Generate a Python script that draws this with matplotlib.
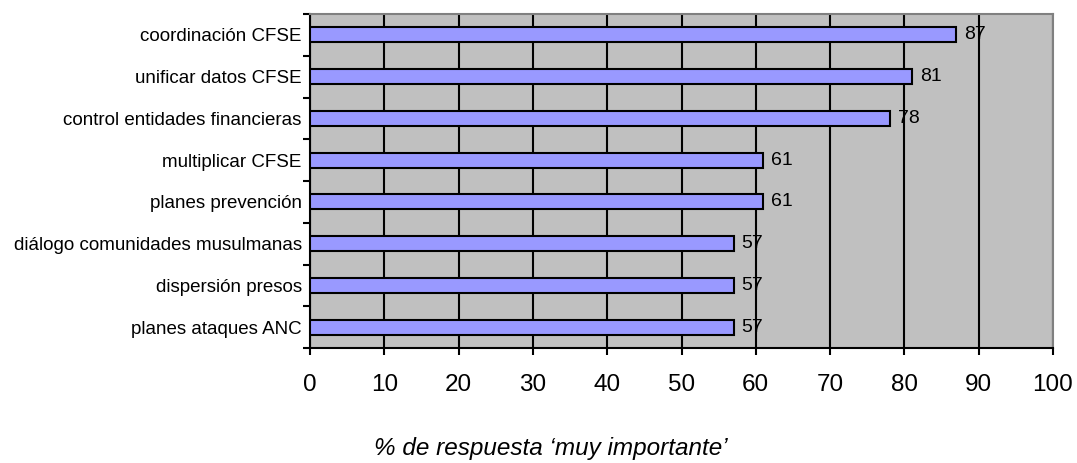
import matplotlib
matplotlib.use("Agg")
import matplotlib.pyplot as plt
import numpy as np

plt.rcParams['font.family'] = ['Liberation Sans', 'DejaVu Sans']

categories = ["coordinación CFSE", "unificar datos CFSE", "control entidades financieras",
              "multiplicar CFSE", "planes prevención", "diálogo comunidades musulmanas",
              "dispersión presos", "planes ataques ANC"]
values = [87, 81, 78, 61, 61, 57, 57, 57]
x_ticks = list(range(0, 101, 10))

fig = plt.figure(figsize=(10.77, 4.63), dpi=100)
ax = fig.add_axes([310 / 1077, 1 - 348 / 463, (1053 - 310) / 1077, (348 - 14) / 463])
ax.set_facecolor("#C0C0C0")

y = np.arange(len(categories))
ax.barh(y, values, height=0.36, color="#9999FF", edgecolor="black", linewidth=1.5, zorder=3)
for yi, v in zip(y, values):
    ax.text(v + 1.1, yi, str(v), va="center", ha="left", fontsize=14, zorder=4)

ax.set_xlim(0, 100)
ax.set_ylim(len(categories) - 0.5, -0.5)
ax.set_xticks(x_ticks)
ax.set_xticklabels([str(t) for t in x_ticks], fontsize=17.5)
ax.set_yticks(y)
ax.set_yticklabels(categories, fontsize=13.5)
ax.tick_params(axis="y", length=0, pad=6)
ax.set_yticks(np.arange(-0.5, len(categories)), minor=True)
ax.tick_params(axis="y", which="minor", length=5, width=1.5, direction="out")
ax.tick_params(axis="x", length=5, width=1.5, direction="out", pad=14)
ax.grid(axis="x", color="black", linewidth=1.5, zorder=1)
ax.set_axisbelow(True)

for side in ["left", "bottom"]:
    ax.spines[side].set_linewidth(1.5)
    ax.spines[side].set_color("black")
for side in ["top", "right"]:
    ax.spines[side].set_color("#808080")
    ax.spines[side].set_linewidth(1.5)

# axis title sits centred on the whole chart, not on the plot area
fig.text(551 / 1077, 1 - 449 / 463, "% de respuesta ‘muy importante’",
         fontsize=17.5, style="italic", ha="center", va="center")

fig.savefig("out.png", dpi=100)
